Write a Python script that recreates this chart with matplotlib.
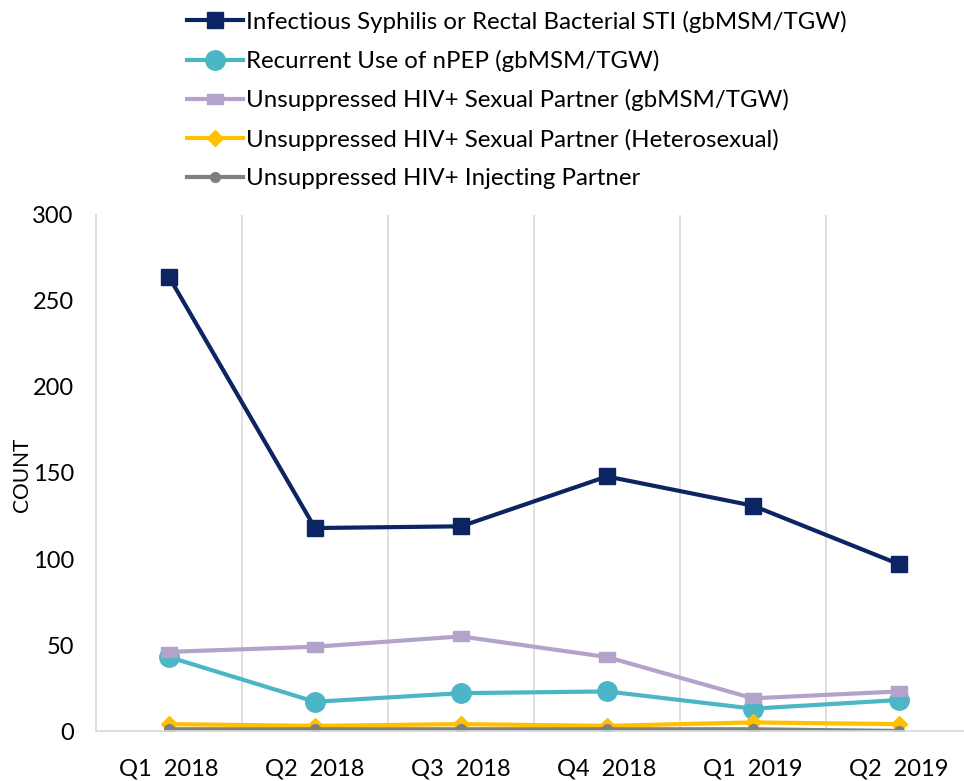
import matplotlib.pyplot as plt
from matplotlib.path import Path
import numpy as np

plt.rcParams['font.family'] = ['Lato', 'DejaVu Sans']

quarters = ['Q1  2018', 'Q2  2018', 'Q3  2018', 'Q4  2018', 'Q1  2019', 'Q2  2019']
syphilis = [264, 118, 119, 148, 131, 97]
npep = [43, 17, 22, 23, 13, 18]
partner_msm = [46, 49, 55, 43, 19, 23]
partner_het = [4, 3, 4, 3, 5, 4]
injecting = [1, 1, 1, 1, 1, 0]

# wide flat rectangle for the purple series
wide_rect = Path([(-1, -0.6), (1, -0.6), (1, 0.6), (-1, 0.6), (-1, -0.6)], closed=True)

series = [
    ('Infectious Syphilis or Rectal Bacterial STI (gbMSM/TGW)', syphilis, '#0C2461', 's', 11),
    ('Recurrent Use of nPEP (gbMSM/TGW)', npep, '#4BB6C5', 'o', 14),
    ('Unsuppressed HIV+ Sexual Partner (gbMSM/TGW)', partner_msm, '#B3A3CA', wide_rect, 11),
    ('Unsuppressed HIV+ Sexual Partner (Heterosexual)', partner_het, '#FFC000', 'D', 8),
    ('Unsuppressed HIV+ Injecting Partner', injecting, '#7F7F7F', 'o', 7),
]

fig = plt.figure(figsize=(9.64, 7.81), dpi=100)
ax = fig.add_axes([96/964, 1-731/781, 876/964, 516/781])
x = np.arange(len(quarters))

handles = []
for label, vals, color, marker, ms in series:
    h, = ax.plot(x, vals, color=color, lw=3.0, marker=marker, markersize=ms, label=label)
    handles.append(h)

ax.set_xlim(-0.5, 5.5)
ax.set_ylim(0, 300)
ax.set_yticks(range(0, 301, 50))
ax.set_xticks(x)
ax.set_xticklabels(quarters)
ax.set_xticks(np.arange(0.5, 5.5, 1), minor=True)
ax.grid(which='minor', axis='x', color='#D9D9D9', lw=1.2)
ax.tick_params(axis='both', which='both', length=0, labelsize=17)
ax.tick_params(axis='y', pad=16)
ax.tick_params(axis='x', pad=20)
for s in ['top', 'right']:
    ax.spines[s].set_visible(False)
ax.spines['left'].set_color('#D9D9D9')
ax.spines['bottom'].set_color('#D9D9D9')
ax.spines['left'].set_linewidth(1.2)
ax.spines['bottom'].set_linewidth(1.2)

fig.text(22/964, 1-475/781, 'COUNT', rotation=90, ha='center', va='center', fontsize=15)

fig.legend(handles=handles, loc='upper left', bbox_to_anchor=(173/964, 1.005),
           frameon=False, fontsize=17.3, handlelength=2.3, handletextpad=0.12,
           labelspacing=0.72, borderaxespad=0.2)

fig.savefig('out.png', dpi=100)
